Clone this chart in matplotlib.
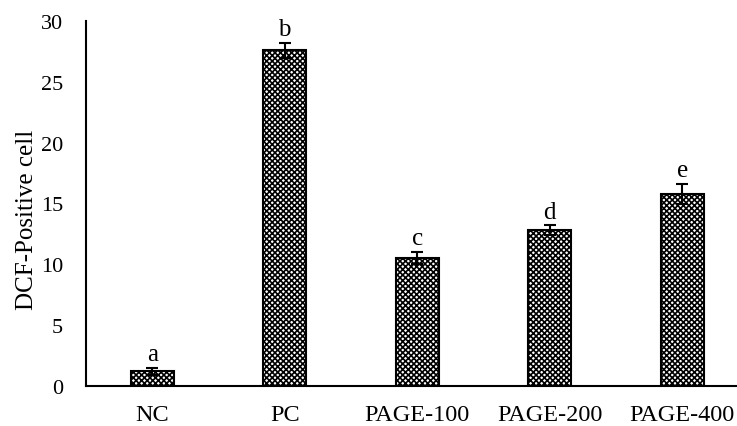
import numpy as np
import matplotlib
matplotlib.use("Agg")
import matplotlib.pyplot as plt

groups = ["NC", "PC", "PAGE-100", "PAGE-200", "PAGE-400"]
dcf_positive = [1.2, 27.6, 10.5, 12.8, 15.8]
dcf_err = [0.3, 0.6, 0.5, 0.4, 0.8]
letters = ["a", "b", "c", "d", "e"]

plt.rcParams["font.family"] = ["Liberation Serif", "DejaVu Serif"]
plt.rcParams["hatch.linewidth"] = 1.2

fig = plt.figure(figsize=(7.37, 4.27), dpi=100)
ax = fig.add_axes([86 / 737, 40 / 427, 1 - 86 / 737, 365 / 427])

x = np.arange(len(groups))
bars = ax.bar(x, dcf_positive, width=0.325, color="white", edgecolor="black",
              linewidth=1.5, hatch="xxxxxx", zorder=2)
ax.errorbar(x, dcf_positive, yerr=dcf_err, fmt="none", ecolor="black",
            elinewidth=1.5, capsize=4.3, capthick=1.5, zorder=3)

# significance letters above error bars
for i in range(len(groups)):
    ax.annotate(letters[i], (x[i], dcf_positive[i] + dcf_err[i]),
                xytext=(0, 2), textcoords="offset points",
                ha="center", va="bottom", fontsize=18)

ax.set_xlim(-0.5, -0.5 + 651 / 132.5)
ax.set_ylim(0, 30)
ax.set_yticks(range(0, 31, 5))
ax.set_xticks(x, labels=groups)
ax.tick_params(axis="y", length=0, pad=16.5, labelsize=16)
ax.tick_params(axis="x", length=0, pad=13, labelsize=17.5)
ax.set_ylabel("DCF-Positive cell", fontsize=18)
ax.yaxis.set_label_coords(-0.073, 0.4575)

for side in ["top", "right"]:
    ax.spines[side].set_visible(False)
for side in ["left", "bottom"]:
    ax.spines[side].set_linewidth(1.5)

fig.savefig("out.png", dpi=100)
